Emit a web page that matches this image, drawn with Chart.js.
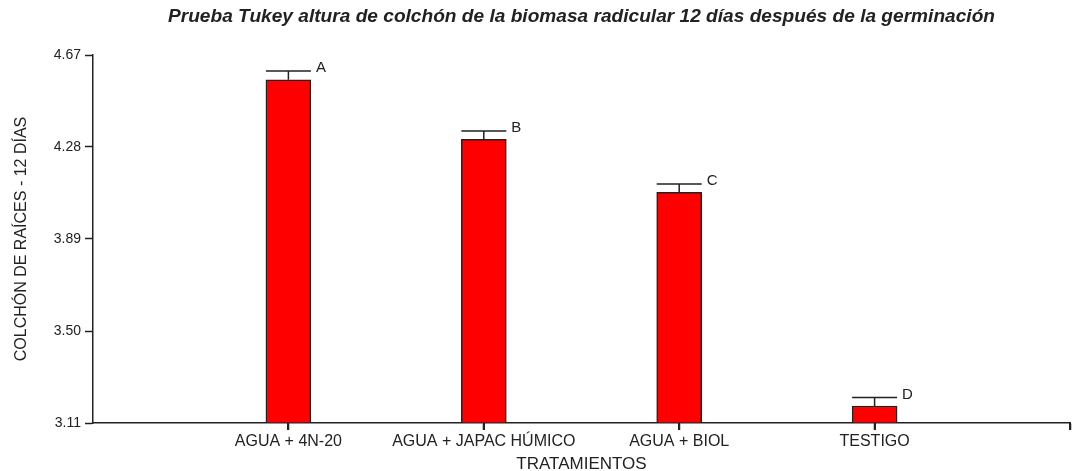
<!DOCTYPE html>
<html>
<head>
<meta charset="utf-8">
<script src="https://cdn.jsdelivr.net/npm/chart.js@4/dist/chart.umd.min.js"></script>
<style>
  html, body { margin: 0; padding: 0; background: #fff; }
  #wrap { width: 1072px; height: 471px; }
</style>
</head>
<body>
<div id="wrap"><canvas id="grafico"></canvas></div>
<script>
// datos
const categorias = ['', 'AGUA + 4N-20', 'AGUA + JAPAC HÚMICO', 'AGUA + BIOL', 'TESTIGO', ''];
const medias = [null, 4.565, 4.312, 4.088, 3.182, null];
const errores = [null, 0.037, 0.036, 0.035, 0.036, null];
const letras = ['', 'A', 'B', 'C', 'D', ''];
const ticksY = [3.11, 3.50, 3.89, 4.28, 4.67];

const titulo = 'Prueba Tukey altura de colchón de la biomasa radicular 12 días después de la germinación';
const tinta = '#222';
const fuente = '"Liberation Sans", Arial, sans-serif';

// barras de error, letras de Tukey y título
const extras = {
  id: 'extras',
  afterDatasetsDraw(chart) {
    const ctx = chart.ctx;
    const x = chart.scales.x, y = chart.scales.y;
    const meta = chart.getDatasetMeta(0);
    ctx.save();
    ctx.strokeStyle = tinta;
    ctx.lineWidth = 1.5;
    meta.data.forEach((bar, i) => {
      if (medias[i] == null) return;
      const cx = x.getPixelForValue(i);
      const yTop = y.getPixelForValue(medias[i]);
      const yErr = y.getPixelForValue(medias[i] + errores[i]);
      const half = bar.width / 2;
      ctx.beginPath();
      ctx.moveTo(cx, yTop);
      ctx.lineTo(cx, yErr);
      ctx.moveTo(cx - half, yErr);
      ctx.lineTo(cx + half, yErr);
      ctx.stroke();
      ctx.fillStyle = tinta;
      ctx.font = '15px ' + fuente;
      ctx.textAlign = 'left';
      ctx.textBaseline = 'middle';
      ctx.fillText(letras[i], cx + half + 5, yErr - 3);
    });
    // título estrecho, como en el original
    ctx.font = 'italic bold 19px ' + fuente;
    const w = ctx.measureText(titulo).width;
    const cxT = (chart.chartArea.left + chart.chartArea.right) / 2;
    ctx.translate(cxT, 17);
    ctx.scale(827 / w, 1);
    ctx.textAlign = 'center';
    ctx.textBaseline = 'middle';
    ctx.fillStyle = tinta;
    ctx.fillText(titulo, 0, 0);
    ctx.restore();
  },
  // marcas bajo cada tratamiento, al final de todo
  afterDraw(chart) {
    const ctx = chart.ctx;
    const x = chart.scales.x;
    ctx.save();
    ctx.fillStyle = tinta;
    categorias.forEach((c, i) => {
      if (i === 0) return;
      const px = Math.round(x.getPixelForValue(i));
      ctx.fillRect(px - 1, Math.round(x.top), 2, 7);
    });
    ctx.restore();
  }
};

const ctx = document.getElementById('grafico').getContext('2d');
new Chart(ctx, {
  type: 'bar',
  data: {
    labels: categorias,
    datasets: [{
      data: medias,
      base: ticksY[0],
      backgroundColor: '#ff0000',
      borderColor: tinta,
      borderWidth: 1.5,
      barThickness: 45
    }]
  },
  options: {
    responsive: true,
    maintainAspectRatio: false,
    animation: false,
    layout: { padding: { top: 55, right: 1, left: 0, bottom: 0 } },
    plugins: {
      legend: { display: false },
      tooltip: { enabled: false }
    },
    scales: {
      x: {
        offset: false,
        grid: {
          offset: false,
          drawOnChartArea: false,
          tickLength: 7,
          tickColor: c => (c.index === 0 ? 'rgba(0,0,0,0)' : tinta),
          tickWidth: 1.5
        },
        border: { color: tinta, width: 1.5 },
        ticks: {
          color: tinta,
          maxRotation: 0,
          autoSkip: false,
          padding: 2,
          font: { family: fuente, size: 16 }
        },
        title: {
          display: true,
          text: 'TRATAMIENTOS',
          color: tinta,
          padding: { top: 0, bottom: -4 },
          font: { family: fuente, size: 17 }
        },
        afterFit: s => { s.height = 48; }
      },
      y: {
        min: 3.11,
        max: 4.67,
        afterBuildTicks: s => { s.ticks = ticksY.map(v => ({ value: v })); },
        grid: {
          drawOnChartArea: false,
          tickLength: 8,
          tickColor: tinta,
          tickWidth: 1.5
        },
        border: { color: tinta, width: 1.5 },
        ticks: {
          color: tinta,
          padding: 4,
          callback: v => Number(v).toFixed(2),
          font: { family: fuente, size: 14 }
        },
        title: {
          display: true,
          text: 'COLCHÓN DE RAÍCES - 12 DÍAS',
          color: tinta,
          padding: { top: 12, bottom: 0 },
          font: { family: fuente, size: 16 }
        },
        afterFit: s => { s.width = 93; }
      }
    }
  },
  plugins: [extras]
});
</script>
</body>
</html>
